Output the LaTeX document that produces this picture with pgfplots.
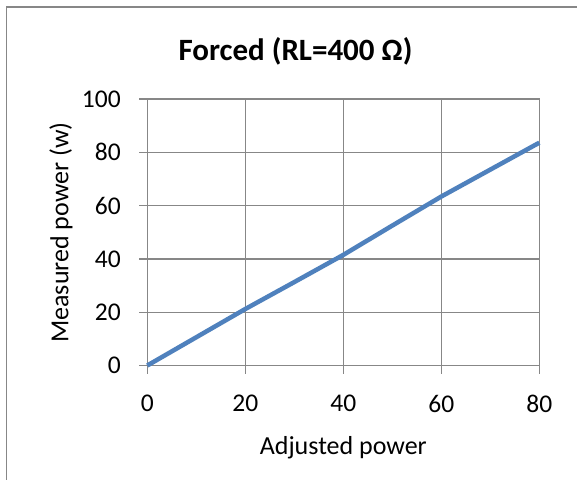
\documentclass[border=0pt]{standalone}
\usepackage{pgfplots}
\pgfplotsset{compat=1.18}
\usepackage{fontspec}
\setmainfont{Carlito}
\definecolor{gridgray}{HTML}{878787}
\definecolor{lineblue}{HTML}{4F81BD}
\begin{document}
\begin{tikzpicture}[x=1pt,y=1pt]
\clip (0,0) rectangle (577,479);
\fill[white] (0,0) rectangle (577,479);
\draw[gridgray, line width=1.8pt] (6.5,-20) rectangle (600,472);
\node[font=\fontsize{31}{36}\selectfont\bfseries, inner sep=0pt] at (295.5,428) {Forced (RL=400 Ω)};
\node[font=\fontsize{26}{30}\selectfont, inner sep=0pt] at (343.3,31) {Adjusted power};
\node[font=\fontsize{26}{30}\selectfont, inner sep=0pt, rotate=90] at (61,246.5) {Measured power (w)};
\begin{axis}[
  at={(147.3pt,113.5pt)}, anchor=south west,
  scale only axis, width=392pt, height=266.5pt,
  xmin=0, xmax=80, ymin=0, ymax=100,
  xtick={0,20,40,60,80}, ytick={0,20,40,60,80,100},
  grid=major,
  grid style={gridgray, line width=1.3pt},
  axis line style={gridgray, line width=1.3pt},
  tick style={gridgray, line width=1.3pt},
  tick align=outside, major tick length=8pt,
  xtick pos=bottom, ytick pos=left,
  ticklabel style={font=\fontsize{25.5}{30}\selectfont},
  x tick label style={yshift=-18pt},
  y tick label style={xshift=-15pt},
  /pgf/number format/assume math mode=true,
  clip=false,
]
\addplot[lineblue, line width=4.5pt] coordinates {
(0,0) (10,10.6) (20,21.2) (30,31.3) (40,41.5) (50,52.5) (60,63.4) (70,73.5) (80,83.6)
};
\end{axis}
\end{tikzpicture}
\end{document}
